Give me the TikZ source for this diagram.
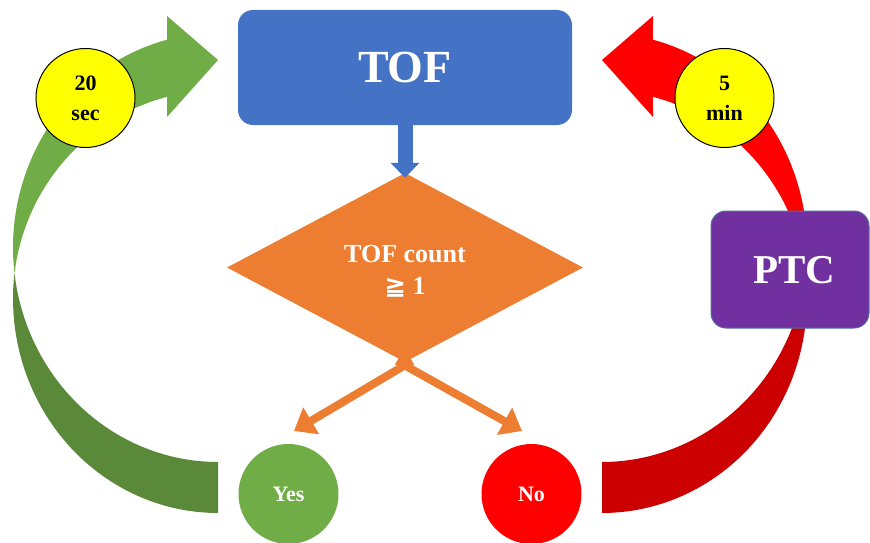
\documentclass[tikz,border=0pt]{standalone}
\usepackage{fontspec}
\setmainfont{Liberation Serif}
\newfontfamily\symfont{DejaVu Sans}
\usetikzlibrary{arrows.meta,shapes.geometric,calc}
\definecolor{tofblue}{HTML}{4472C4}
\definecolor{dorange}{HTML}{ED7D31}
\definecolor{grnL}{HTML}{70AD47}
\definecolor{grnD}{HTML}{5A8A39}
\definecolor{redL}{HTML}{FF0000}
\definecolor{redD}{HTML}{CC0000}
\definecolor{ptcpurple}{HTML}{7030A0}
\definecolor{ptcedge}{HTML}{4F6FA0}
\definecolor{tagyellow}{HTML}{FFFF00}
\begin{document}
\begin{tikzpicture}[x=1pt,y=-1pt,
  boxstyle/.style={rectangle, rounded corners=15pt, inner sep=0pt, text=white, font=\bfseries},
  decision/.style={diamond, fill=dorange, inner sep=0pt, minimum width=356pt, minimum height=189pt},
  dtext/.style={inner sep=0pt, text=white, align=center, font=\fontsize{26}{32}\selectfont\bfseries},
  result/.style={circle, inner sep=0pt, minimum size=100pt, text=white,
    font=\fontsize{22}{26}\selectfont\bfseries},
  timetag/.style={circle, draw=black, line width=1pt, fill=tagyellow, inner sep=0pt,
    minimum size=99pt, align=center, font=\fontsize{22}{30}\selectfont\bfseries},
  orangearrow/.style={draw=dorange, line width=8pt,
    -{Triangle[width=30pt,length=20pt]}},
  bluearrow/.style={draw=tofblue, line width=15pt,
    -{Triangle[width=28pt,length=15pt]}}]
\useasboundingbox (0,0) rectangle (870,543);

% green curved arrow (Yes loop)
\fill[grnD] plot[domain=186.83:90, samples=60, variable=\t] ({218+205*cos(\t)},{298.5+214.5*sin(\t)})
  -- plot[domain=90:173.17, samples=60, variable=\t] ({218+205*cos(\t)},{247.5+214.5*sin(\t)}) -- cycle;
\fill[grnL] plot[domain=173.17:255.6, samples=60, variable=\t] ({218+205*cos(\t)},{247.5+214.5*sin(\t)})
  -- (167,16) -- (218,60) -- (167,117)
  -- plot[domain=255.6:187.04, samples=60, variable=\t] ({218+205*cos(\t)},{298.5+208.2*sin(\t)}) -- cycle;

% red curved arrow (No loop)
\fill[redD] plot[domain=186.83:90, samples=60, variable=\t] ({602-205*cos(\t)},{298.5+214.5*sin(\t)})
  -- plot[domain=90:173.17, samples=60, variable=\t] ({602-205*cos(\t)},{247.5+214.5*sin(\t)}) -- cycle;
\fill[redL] plot[domain=173.17:255.6, samples=60, variable=\t] ({602-205*cos(\t)},{247.5+214.5*sin(\t)})
  -- (653,16) -- (602,60) -- (653,117)
  -- plot[domain=255.6:187.04, samples=60, variable=\t] ({602-205*cos(\t)},{298.5+208.2*sin(\t)}) -- cycle;

% nodes
\node[boxstyle, fill=tofblue, minimum width=334pt, minimum height=115pt,
  font=\fontsize{46}{50}\selectfont\bfseries] (tof) at (405,67.5) {TOF};
\node[boxstyle, fill=ptcpurple, draw=ptcedge, line width=1pt, minimum width=158pt, minimum height=117pt] (ptc) at (790,269.5) {};
\node[text=white, inner sep=0pt, font=\fontsize{41}{45}\selectfont\bfseries] (ptctext) at (794,270) {PTC};

\coordinate (yesTip) at (294,431);
\coordinate (noTip) at (522,431);
\draw[orangearrow] (412,361) -- (yesTip);
\draw[orangearrow] (397,361) -- (noTip);

\node[decision] (dia) at (405,267.5) {};
\node[dtext] (diatext) at (405,271) {TOF count\\{\symfont ≧} 1};

\draw[bluearrow] (tof.south) -- ($(dia.north)+(0,5)$);

\node[result, fill=grnL] (yes) at (288.5,494) {Yes};
\node[result, fill=redL] (no) at (531.5,494) {No};

\node[timetag] (t20) at (85.5,98) {20\\sec};
\node[timetag] (t5) at (724.5,98) {5\\min};
\end{tikzpicture}
\end{document}
